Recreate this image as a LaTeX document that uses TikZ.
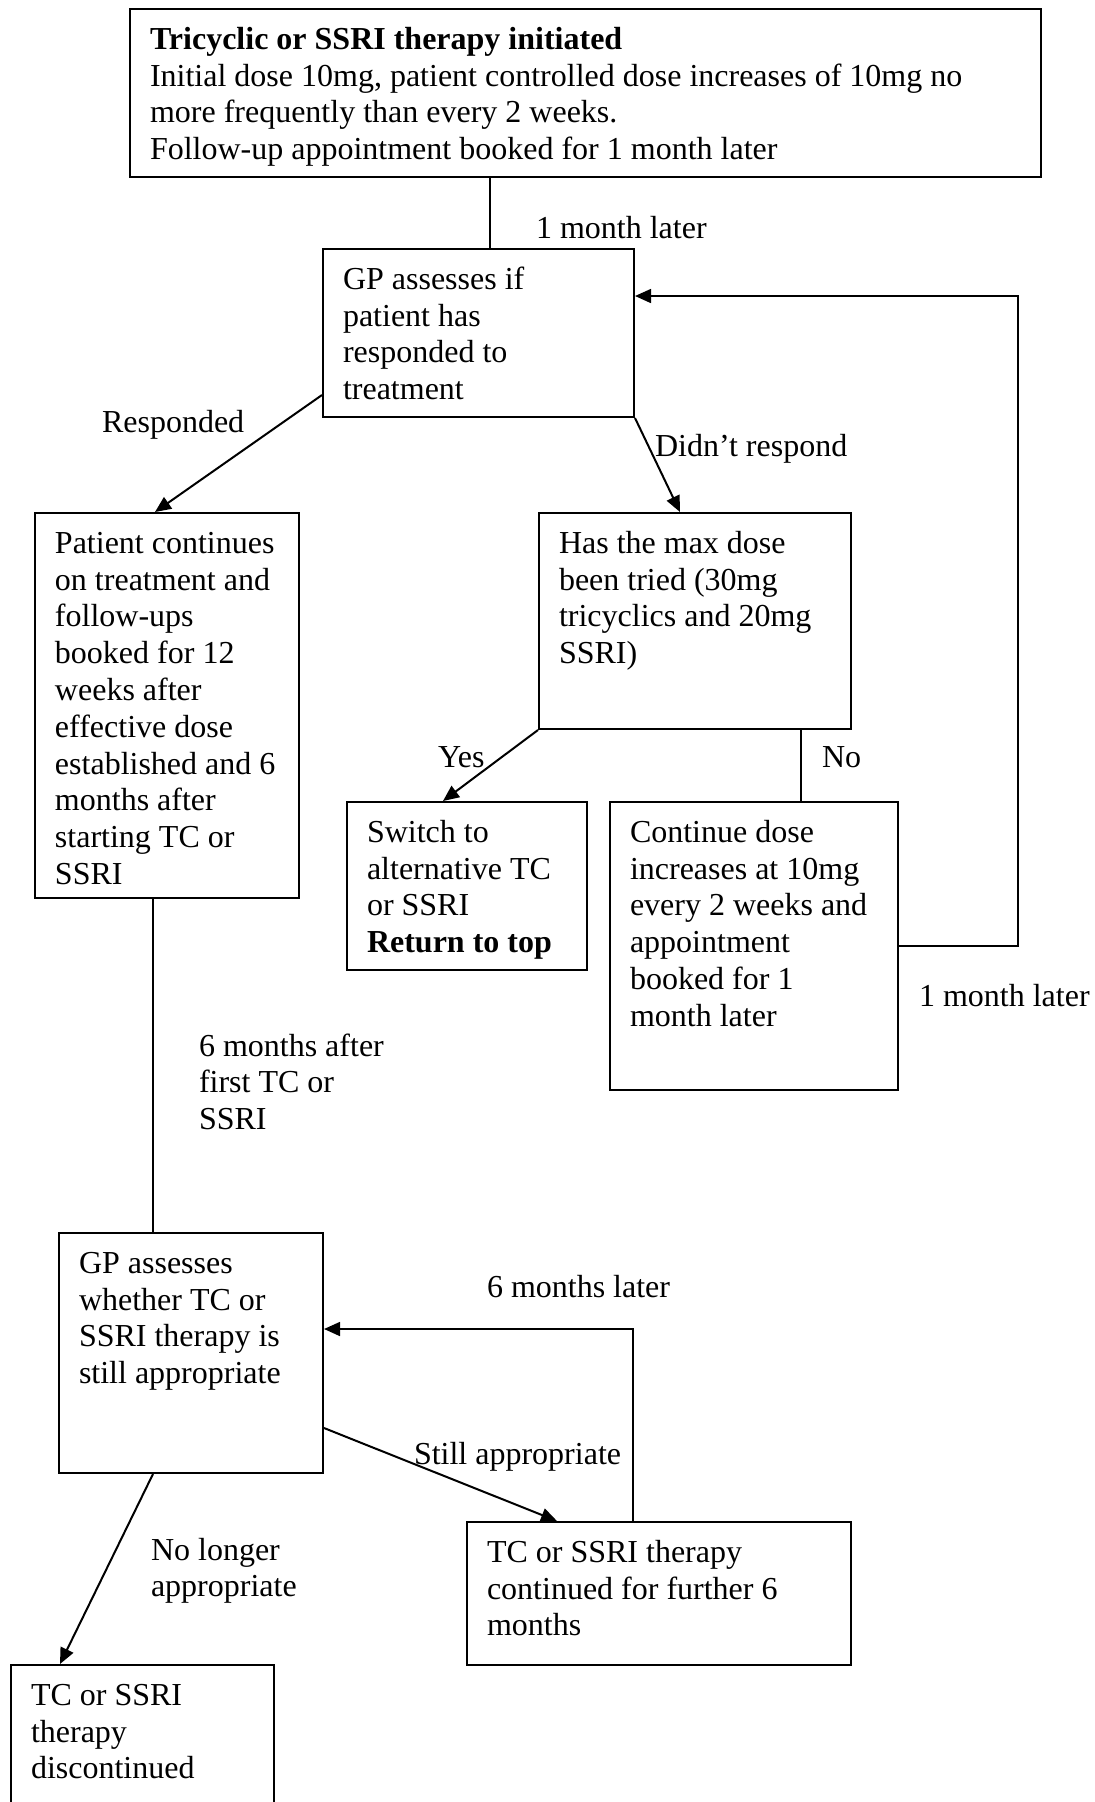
\documentclass[tikz,border=0pt]{standalone}
\usepackage{fontspec}
\setmainfont{Liberation Serif}
\usetikzlibrary{arrows.meta,positioning,calc}
\newdimen\px \px=0.375pt
\newcommand{\boxtxt}[3]{\parbox[t][\dimexpr#2\px-29\px\relax][t]{\dimexpr#1\px-40\px\relax}{\raggedright\strut #3}}
\newcommand{\lines}[1]{\begin{tabular}[t]{@{}l@{}}#1\end{tabular}}

\begin{document}
\begin{tikzpicture}[x=0.375pt,y=-0.375pt,line width=0.75pt,
  box/.style={draw,anchor=north west,inner xsep=20\px,inner ysep=14.5\px,font=\fontsize{12}{13.8}\selectfont},
  lbl/.style={anchor=base west,inner sep=0pt,font=\fontsize{12}{13.8}\selectfont},
  arr/.style={-{Triangle[length=6pt,width=5.2pt]}}]
\useasboundingbox (0,0) rectangle (1095,1802);
% boxes
\node[box] (top) at (129,8) {\boxtxt{911}{168}{\textbf{Tricyclic or SSRI therapy initiated}\\
  Initial dose 10mg, patient controlled dose increases of 10mg no\\
  more frequently than every 2 weeks.\\Follow-up appointment booked for 1 month later}};
\node[box] (gp) at (322,248) {\boxtxt{311}{168}{GP assesses if\\patient has\\responded to\\treatment}};
\node[box] (cont) at (34,512) {\boxtxt{264}{385}{Patient continues\\on treatment and\\follow-ups\\booked for 12\\weeks after\\effective dose\\established and 6\\months after\\starting TC or\\SSRI}};
\node[box] (maxd) at (538,512) {\boxtxt{312}{216}{Has the max dose\\been tried (30mg\\tricyclics and 20mg\\SSRI)}};
\node[box] (switch) at (346,801) {\boxtxt{240}{168}{Switch to\\alternative TC\\or SSRI\\\textbf{Return to top}}};
\node[box] (incr) at (609,801) {\boxtxt{288}{288}{Continue dose\\increases at 10mg\\every 2 weeks and\\appointment\\booked for 1\\month later}};
\node[box] (gp2) at (58,1232) {\boxtxt{264}{240}{GP assesses\\whether TC or\\SSRI therapy is\\still appropriate}};
\node[box] (further) at (466,1521) {\boxtxt{384}{143}{TC or SSRI therapy\\continued for further 6\\months}};
\node[box] (stop) at (10,1664) {\boxtxt{263}{168}{TC or SSRI\\therapy\\discontinued}};
% labels
\node[lbl] (l1) at (535,238) {1 month later};
\node[lbl] (l2) at (101,432) {Responded};
\node[lbl] (l3) at (654,456) {Didn't respond};
\node[lbl] (l4) at (437,767) {Yes};
\node[lbl] (l5) at (821,767) {No};
\node[lbl] (l6) at (918,1006) {1 month later};
\node[lbl] (l7) at (198,1056) {\lines{6 months after\\first TC or\\SSRI}};
\node[lbl] (l8) at (486,1297) {6 months later};
\node[lbl] (l9) at (413,1464) {Still appropriate};
\node[lbl] (l10) at (150,1560) {\lines{No longer\\appropriate}};
% connectors
\draw ($(gp.north west)+(168,0)$) coordinate (c0) -- (c0 |- top.south);
\draw[arr] ($(gp.south west)+(0,-23)$) -- ($(cont.north west)+(121,0)$);
\draw[arr] (gp.south east) -- ($(maxd.north west)+(142,0)$);
\draw[arr] (maxd.south west) -- ($(switch.north west)+(97,0)$);
\draw ($(incr.north west)+(192,0)$) coordinate (c1) -- (c1 |- maxd.south);
\draw[arr] (incr.east) -- ++(119,0) |- ($(gp.north east)+(0,48)$);
\draw ($(cont.south west)+(119,0)$) coordinate (c2) -- (c2 |- gp2.north);
\draw[arr] ($(gp2.south west)+(95,0)$) -- ($(stop.north west)+(50,0)$);
\draw[arr] ($(gp2.south east)+(0,-46)$) -- ($(further.north west)+(91,0)$);
\draw[arr] ($(further.north west)+(167,0)$) |- ($(gp2.north east)+(0,97)$);
\end{tikzpicture}
\end{document}
